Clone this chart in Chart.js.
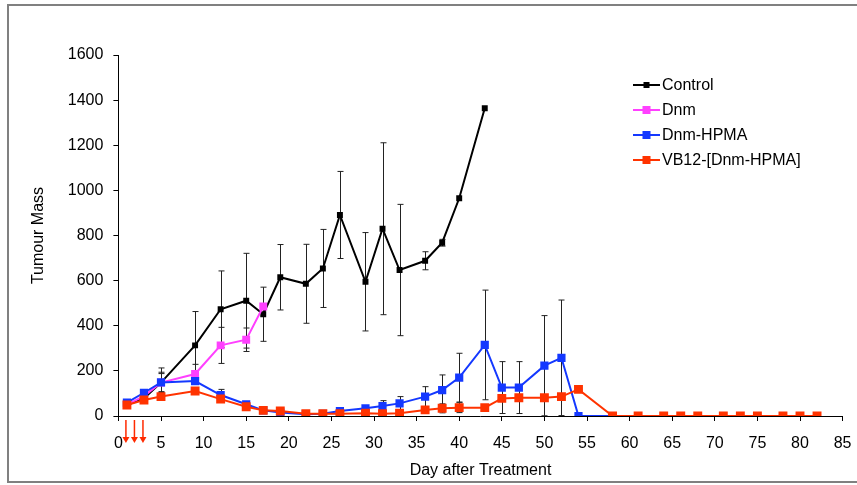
<!DOCTYPE html>
<html>
<head>
<meta charset="utf-8">
<script src="https://cdn.jsdelivr.net/npm/chart.js@4.4.1/dist/chart.umd.min.js"></script>
<style>
  html, body { margin: 0; padding: 0; background: #fff; }
  #wrap { width: 857px; height: 485px; position: relative; }
</style>
</head>
<body>
<div id="wrap"><canvas id="grafico"></canvas></div>
<script>
// Datos (dia, masa tumoral, error)
const controlDays = [1, 3, 5, 9, 12, 15, 17, 19, 22, 24, 26, 29, 31, 33, 36, 38, 40, 43];
const controlMass = [49, 78, 148, 313, 473, 511, 451, 615, 586, 654, 891, 595, 830, 647, 688, 768, 965, 1364];
const controlErr = [10, 12, 65, 150, 170, 210, 120, 145, 175, 173, 193, 218, 381, 291, 40, 15, 0, 0];

const dnmDays = [1, 3, 5, 9, 12, 15, 17];
const dnmMass = [50, 88, 148, 186, 313, 338, 485];
const dnmErr = [8, 12, 40, 43, 80, 52, 10];

const hpmaDays = [1, 3, 5, 9, 12, 15, 17, 19, 22, 24, 26, 29, 31, 33, 36, 38, 40, 43, 45, 47, 50, 52, 54, 58];
const hpmaMass = [59, 103, 149, 155, 93, 52, 25, 15, 8, 10, 22, 34, 44, 56, 86, 115, 170, 315, 126, 126, 223, 258, 0, 0];
const hpmaErr = [8, 10, 45, 15, 25, 10, 5, 5, 3, 3, 5, 10, 24, 30, 44, 67, 108, 243, 115, 115, 222, 256, 0, 0];

const vb12Days = [1, 3, 5, 9, 12, 15, 17, 19, 22, 24, 26, 29, 31, 33, 36, 38, 40, 43, 45, 47, 50, 52, 54, 58, 61, 64, 66, 68, 71, 73, 75, 78, 80, 82];
const vb12Mass = [49, 71, 86, 111, 75, 41, 25, 22, 10, 10, 10, 12, 10, 12, 27, 34, 37, 37, 78, 81, 81, 86, 118, 0, 0, 0, 0, 0, 0, 0, 0, 0, 0, 0];
const vb12Err = [10, 10, 15, 15, 15, 12, 5, 5, 3, 3, 3, 3, 3, 3, 15, 20, 22, 10, 10, 10, 10, 10, 10, 0, 0, 0, 0, 0, 0, 0, 0, 0, 0, 0];

const seriesNames = ['Control', 'Dnm', 'Dnm-HPMA', 'VB12-[Dnm-HPMA]'];
const treatmentDays = [1, 2, 3];

const FONT = 'Liberation Sans, Arial, sans-serif';

function puntos(days, mass, err) {
    return days.map((d, i) => ({ x: d, y: mass[i], e: err[i] }));
}

// Barras de error, detras de las lineas
const errorBars = {
    id: 'errorBars',
    beforeDatasetsDraw(chart) {
        const ctx = chart.ctx;
        const xs = chart.scales.x, ys = chart.scales.y;
        ctx.save();
        ctx.strokeStyle = '#222';
        ctx.lineWidth = 1;
        chart.data.datasets.forEach(ds => {
            ds.data.forEach(p => {
                if (!p.e) return;
                const x = Math.round(xs.getPixelForValue(p.x)) + 0.5;
                const y1 = ys.getPixelForValue(p.y + p.e);
                const y2 = ys.getPixelForValue(Math.max(0, p.y - p.e));
                ctx.beginPath();
                ctx.moveTo(x, y1); ctx.lineTo(x, y2);
                ctx.moveTo(x - 3, y1); ctx.lineTo(x + 3, y1);
                ctx.moveTo(x - 3, y2); ctx.lineTo(x + 3, y2);
                ctx.stroke();
            });
        });
        ctx.restore();
    }
};

// Marco, flechas de tratamiento y leyenda
const extras = {
    id: 'extras',
    afterDraw(chart) {
        const ctx = chart.ctx;
        const xs = chart.scales.x, ys = chart.scales.y;
        ctx.save();
        // marco exterior
        ctx.strokeStyle = '#808080';
        ctx.lineWidth = 2;
        ctx.strokeRect(8, 5, 860, 477);

        // flechas
        ctx.strokeStyle = '#ff2a00';
        ctx.fillStyle = '#ff2a00';
        ctx.lineWidth = 1.5;
        const y0 = ys.bottom + 4, y1 = ys.bottom + 27;
        treatmentDays.forEach(d => {
            const x = xs.getPixelForValue(d) - 1;
            ctx.beginPath();
            ctx.moveTo(x, y0); ctx.lineTo(x, y1 - 4);
            ctx.stroke();
            ctx.beginPath();
            ctx.moveTo(x - 3.5, y1 - 6); ctx.lineTo(x + 3.5, y1 - 6); ctx.lineTo(x, y1);
            ctx.closePath();
            ctx.fill();
        });

        // leyenda
        ctx.font = '16px ' + FONT;
        ctx.textBaseline = 'middle';
        const lx = 633, ly = 85, step = 25;
        chart.data.datasets.forEach((ds, i) => {
            const y = ly + i * step;
            ctx.strokeStyle = ds.borderColor;
            ctx.lineWidth = 2;
            ctx.beginPath();
            ctx.moveTo(lx, y); ctx.lineTo(lx + 27, y);
            ctx.stroke();
            const s = i === 0 ? 6 : 8;
            ctx.fillStyle = ds.backgroundColor;
            ctx.fillRect(lx + 13.5 - s / 2, y - s / 2, s, s);
            ctx.fillStyle = '#000';
            ctx.fillText(ds.label, lx + 29, y + 1);
        });
        ctx.restore();
    }
};

const colores = ['#000000', '#ff40ff', '#1438ff', '#ff3300'];
const radios = [4.2, 5.6, 5.8, 6.3];
const conjuntos = [
    puntos(controlDays, controlMass, controlErr),
    puntos(dnmDays, dnmMass, dnmErr),
    puntos(hpmaDays, hpmaMass, hpmaErr),
    puntos(vb12Days, vb12Mass, vb12Err)
];

const ctx = document.getElementById('grafico').getContext('2d');
const miGrafico = new Chart(ctx, {
    type: 'line',
    data: {
        datasets: conjuntos.map((d, i) => ({
            label: seriesNames[i],
            data: d,
            borderColor: colores[i],
            backgroundColor: colores[i],
            borderWidth: 2,
            pointStyle: 'rect',
            pointRadius: radios[i],
            pointBorderWidth: 0,
            tension: 0,
            order: 3 - i
        }))
    },
    options: {
        responsive: true,
        maintainAspectRatio: false,
        animation: false,
        events: [],
        layout: { padding: { left: 0, right: 14.4, top: 55, bottom: 0 } },
        plugins: {
            legend: { display: false },
            tooltip: { enabled: false }
        },
        scales: {
            x: {
                type: 'linear',
                min: 0,
                max: 85,
                afterFit: s => { s.height = 69; s.paddingLeft = 0; s.paddingRight = 0; },
                ticks: { stepSize: 5, color: '#000', padding: 13, maxRotation: 0, font: { family: FONT, size: 16 } },
                grid: { drawOnChartArea: false, color: '#000', tickLength: 5 },
                border: { color: '#000', width: 1 },
                title: { display: true, text: 'Day after Treatment', color: '#000', padding: { top: 0, bottom: 5 }, font: { family: FONT, size: 16 } }
            },
            y: {
                min: 0,
                max: 1600,
                afterFit: s => { s.width = 118.4; s.paddingTop = 0; s.paddingBottom = 0; },
                ticks: { stepSize: 200, color: '#000', padding: 10, font: { family: FONT, size: 16 }, callback: v => String(v) },
                grid: { drawOnChartArea: false, color: '#000', tickLength: 5 },
                border: { color: '#000', width: 1 },
                title: { display: true, text: 'Tumour Mass', color: '#000', padding: { top: 29, bottom: 0 }, font: { family: FONT, size: 16 } }
            }
        }
    },
    plugins: [errorBars, extras]
});
</script>
</body>
</html>
